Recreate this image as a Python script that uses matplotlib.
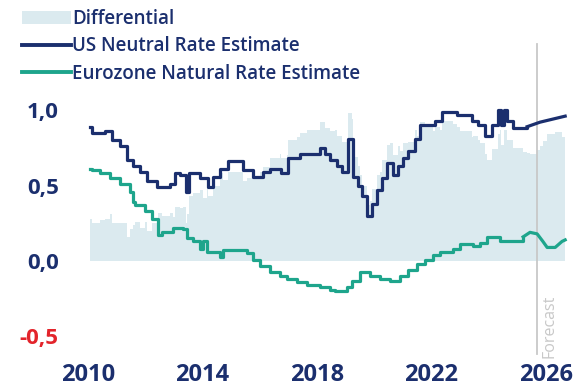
import numpy as np
from matplotlib import pyplot as plt
from matplotlib.patches import Patch
from matplotlib.lines import Line2D

# US neutral rate estimate, step series (year, %)
us_years = [2010.07, 2010.14, 2010.59, 2010.84, 2011.12, 2011.36, 2011.57, 2011.82,
            2012.06, 2012.41, 2012.87, 2013.04, 2013.22, 2013.43, 2013.53, 2013.92,
            2014.20, 2014.37, 2014.62, 2014.90, 2015.42, 2015.77, 2016.12, 2016.36,
            2016.75, 2016.99, 2017.41, 2018.11, 2018.29, 2018.46, 2018.71, 2018.88,
            2019.09, 2019.27, 2019.44, 2019.58, 2019.76, 2019.93, 2020.10, 2020.28,
            2020.45, 2020.66, 2020.84, 2021.01, 2021.19, 2021.43, 2021.61, 2022.13,
            2022.38, 2022.90, 2023.43, 2023.64, 2023.88, 2024.13, 2024.34, 2024.44,
            2024.55, 2024.65, 2024.86, 2025.35]
us_values = [0.89, 0.85, 0.86, 0.80, 0.76, 0.67, 0.63, 0.59, 0.53, 0.49, 0.51, 0.58,
             0.57, 0.46, 0.58, 0.55, 0.49, 0.56, 0.61, 0.66, 0.60, 0.56, 0.59, 0.61,
             0.58, 0.68, 0.71, 0.75, 0.71, 0.67, 0.63, 0.59, 0.81, 0.56, 0.50, 0.43,
             0.30, 0.38, 0.47, 0.55, 0.65, 0.57, 0.63, 0.68, 0.73, 0.81, 0.90, 0.93,
             0.99, 0.97, 0.93, 0.90, 0.83, 0.90, 1.00, 0.90, 1.00, 0.93, 0.88, 0.89]
us_fc_years = [2025.35, 2025.80, 2026.68]
us_fc_values = [0.89, 0.92, 0.96]

# Eurozone natural rate estimate
ez_years = [2010.07, 2010.14, 2010.42, 2010.77, 2011.12, 2011.47, 2011.57, 2011.64,
            2011.99, 2012.24, 2012.45, 2012.59, 2012.97, 2013.32, 2013.46, 2013.67,
            2013.92, 2014.02, 2014.16, 2014.62, 2014.72, 2015.56, 2015.77, 2016.01,
            2016.36, 2016.71, 2016.96, 2017.31, 2017.66, 2018.11, 2018.46, 2018.64,
            2019.06, 2019.23, 2019.51, 2019.86, 2020.21, 2020.56, 2020.91, 2021.19,
            2021.50, 2021.78, 2022.06, 2022.31, 2022.76, 2023.01, 2023.46, 2023.71,
            2023.95, 2024.41, 2025.21]
ez_values = [0.61, 0.60, 0.58, 0.55, 0.51, 0.46, 0.39, 0.37, 0.33, 0.28, 0.17, 0.19,
             0.22, 0.21, 0.15, 0.13, 0.08, 0.13, 0.06, 0.03, 0.07, 0.05, 0.01, -0.03,
             -0.07, -0.10, -0.12, -0.14, -0.16, -0.17, -0.19, -0.20, -0.17, -0.13,
             -0.07, -0.10, -0.12, -0.13, -0.10, -0.06, -0.02, 0.01, 0.04, 0.06, 0.08,
             0.11, 0.10, 0.12, 0.16, 0.13, 0.16]
ez_fc_years = [2025.21, 2025.45, 2025.70, 2025.90, 2026.05, 2026.33, 2026.57, 2026.68]
ez_fc_values = [0.16, 0.19, 0.18, 0.13, 0.09, 0.09, 0.13, 0.14]

forecast_start = 2025.70
x_ticks = [2010, 2014, 2018, 2022, 2026]
y_ticks = [-0.5, 0.0, 0.5, 1.0]
y_labels = ["-0,5", "0,0", "0,5", "1,0"]

NAVY = "#1b2f6e"
TEAL = "#1ea58c"
AREA = "#dbeaef"
RED = "#e3242b"
GREY = "#c8c8c8"
FONT = "Open Sans"


def level(t, hx, hv, fx, fv):
    if t >= fx[0]:
        return float(np.interp(t, fx, fv))
    i = np.searchsorted(hx, t, side="right") - 1
    return hv[i]


grid = np.unique(np.concatenate([us_years, us_fc_years, ez_years, ez_fc_years]))
diff = [level(t, us_years, us_values, us_fc_years, us_fc_values)
        - level(t, ez_years, ez_values, ez_fc_years, ez_fc_values) for t in grid]

fig = plt.figure(figsize=(5.74, 3.87), dpi=100)
ax = fig.add_axes([0.1434, 0.0915, 0.8497, 0.663])

ax.fill_between(grid, 0, diff, step="post", color=AREA, lw=0, zorder=1)

us_x = us_years + [us_fc_years[0]]
us_y = us_values + [us_values[-1]]
ax.plot(us_x, us_y, drawstyle="steps-post", color=NAVY, lw=2.3, zorder=3)
ax.plot(us_fc_years, us_fc_values, color=NAVY, lw=2.3, zorder=3)

ez_x = ez_years + [ez_fc_years[0]]
ez_y = ez_values + [ez_values[-1]]
ax.plot(ez_x, ez_y, drawstyle="steps-post", color=TEAL, lw=2.3, zorder=3)
ax.plot(ez_fc_years, ez_fc_values, color=TEAL, lw=2.3, zorder=3)

ax.axvline(forecast_start, ymin=-0.01, ymax=1.2, color=GREY, lw=1.3,
           clip_on=False, zorder=2)
ax.text(forecast_start + 0.42, -0.645, "Forecast", rotation=90, ha="center",
        va="bottom", color=GREY, fontsize=11.5, family=FONT)

ax.set_xlim(2009.8, 2026.85)
ax.set_ylim(-0.6, 1.1)
ax.set_xticks(x_ticks)
ax.set_xticklabels([str(x) for x in x_ticks])
ax.set_yticks(y_ticks)
ax.set_yticklabels(y_labels)
ax.tick_params(axis="x", length=0, pad=8.5, labelsize=17, labelcolor=NAVY)
ax.tick_params(axis="y", length=0, pad=17, labelsize=16, labelcolor=NAVY)
for lab in ax.get_xticklabels() + ax.get_yticklabels():
    lab.set_fontfamily(FONT)
    lab.set_fontweight("bold")
ax.get_yticklabels()[0].set_color(RED)
for s in ax.spines.values():
    s.set_visible(False)

handles = [
    Patch(facecolor=AREA, edgecolor="none"),
    Line2D([], [], color=NAVY, lw=2.8),
    Line2D([], [], color=TEAL, lw=2.8),
]
labels = ["Differential", "US Neutral Rate Estimate", "Eurozone Natural Rate Estimate"]
leg = fig.legend(handles, labels, loc="upper left", bbox_to_anchor=(0.025, 0.997),
                 frameon=False, handlelength=2.6, handletextpad=0.1,
                 labelspacing=0.4, borderaxespad=0,
                 prop={"family": FONT, "size": 13.5, "weight": "semibold"})
for t in leg.get_texts():
    t.set_color(NAVY)

fig.savefig("out.png", dpi=100)
